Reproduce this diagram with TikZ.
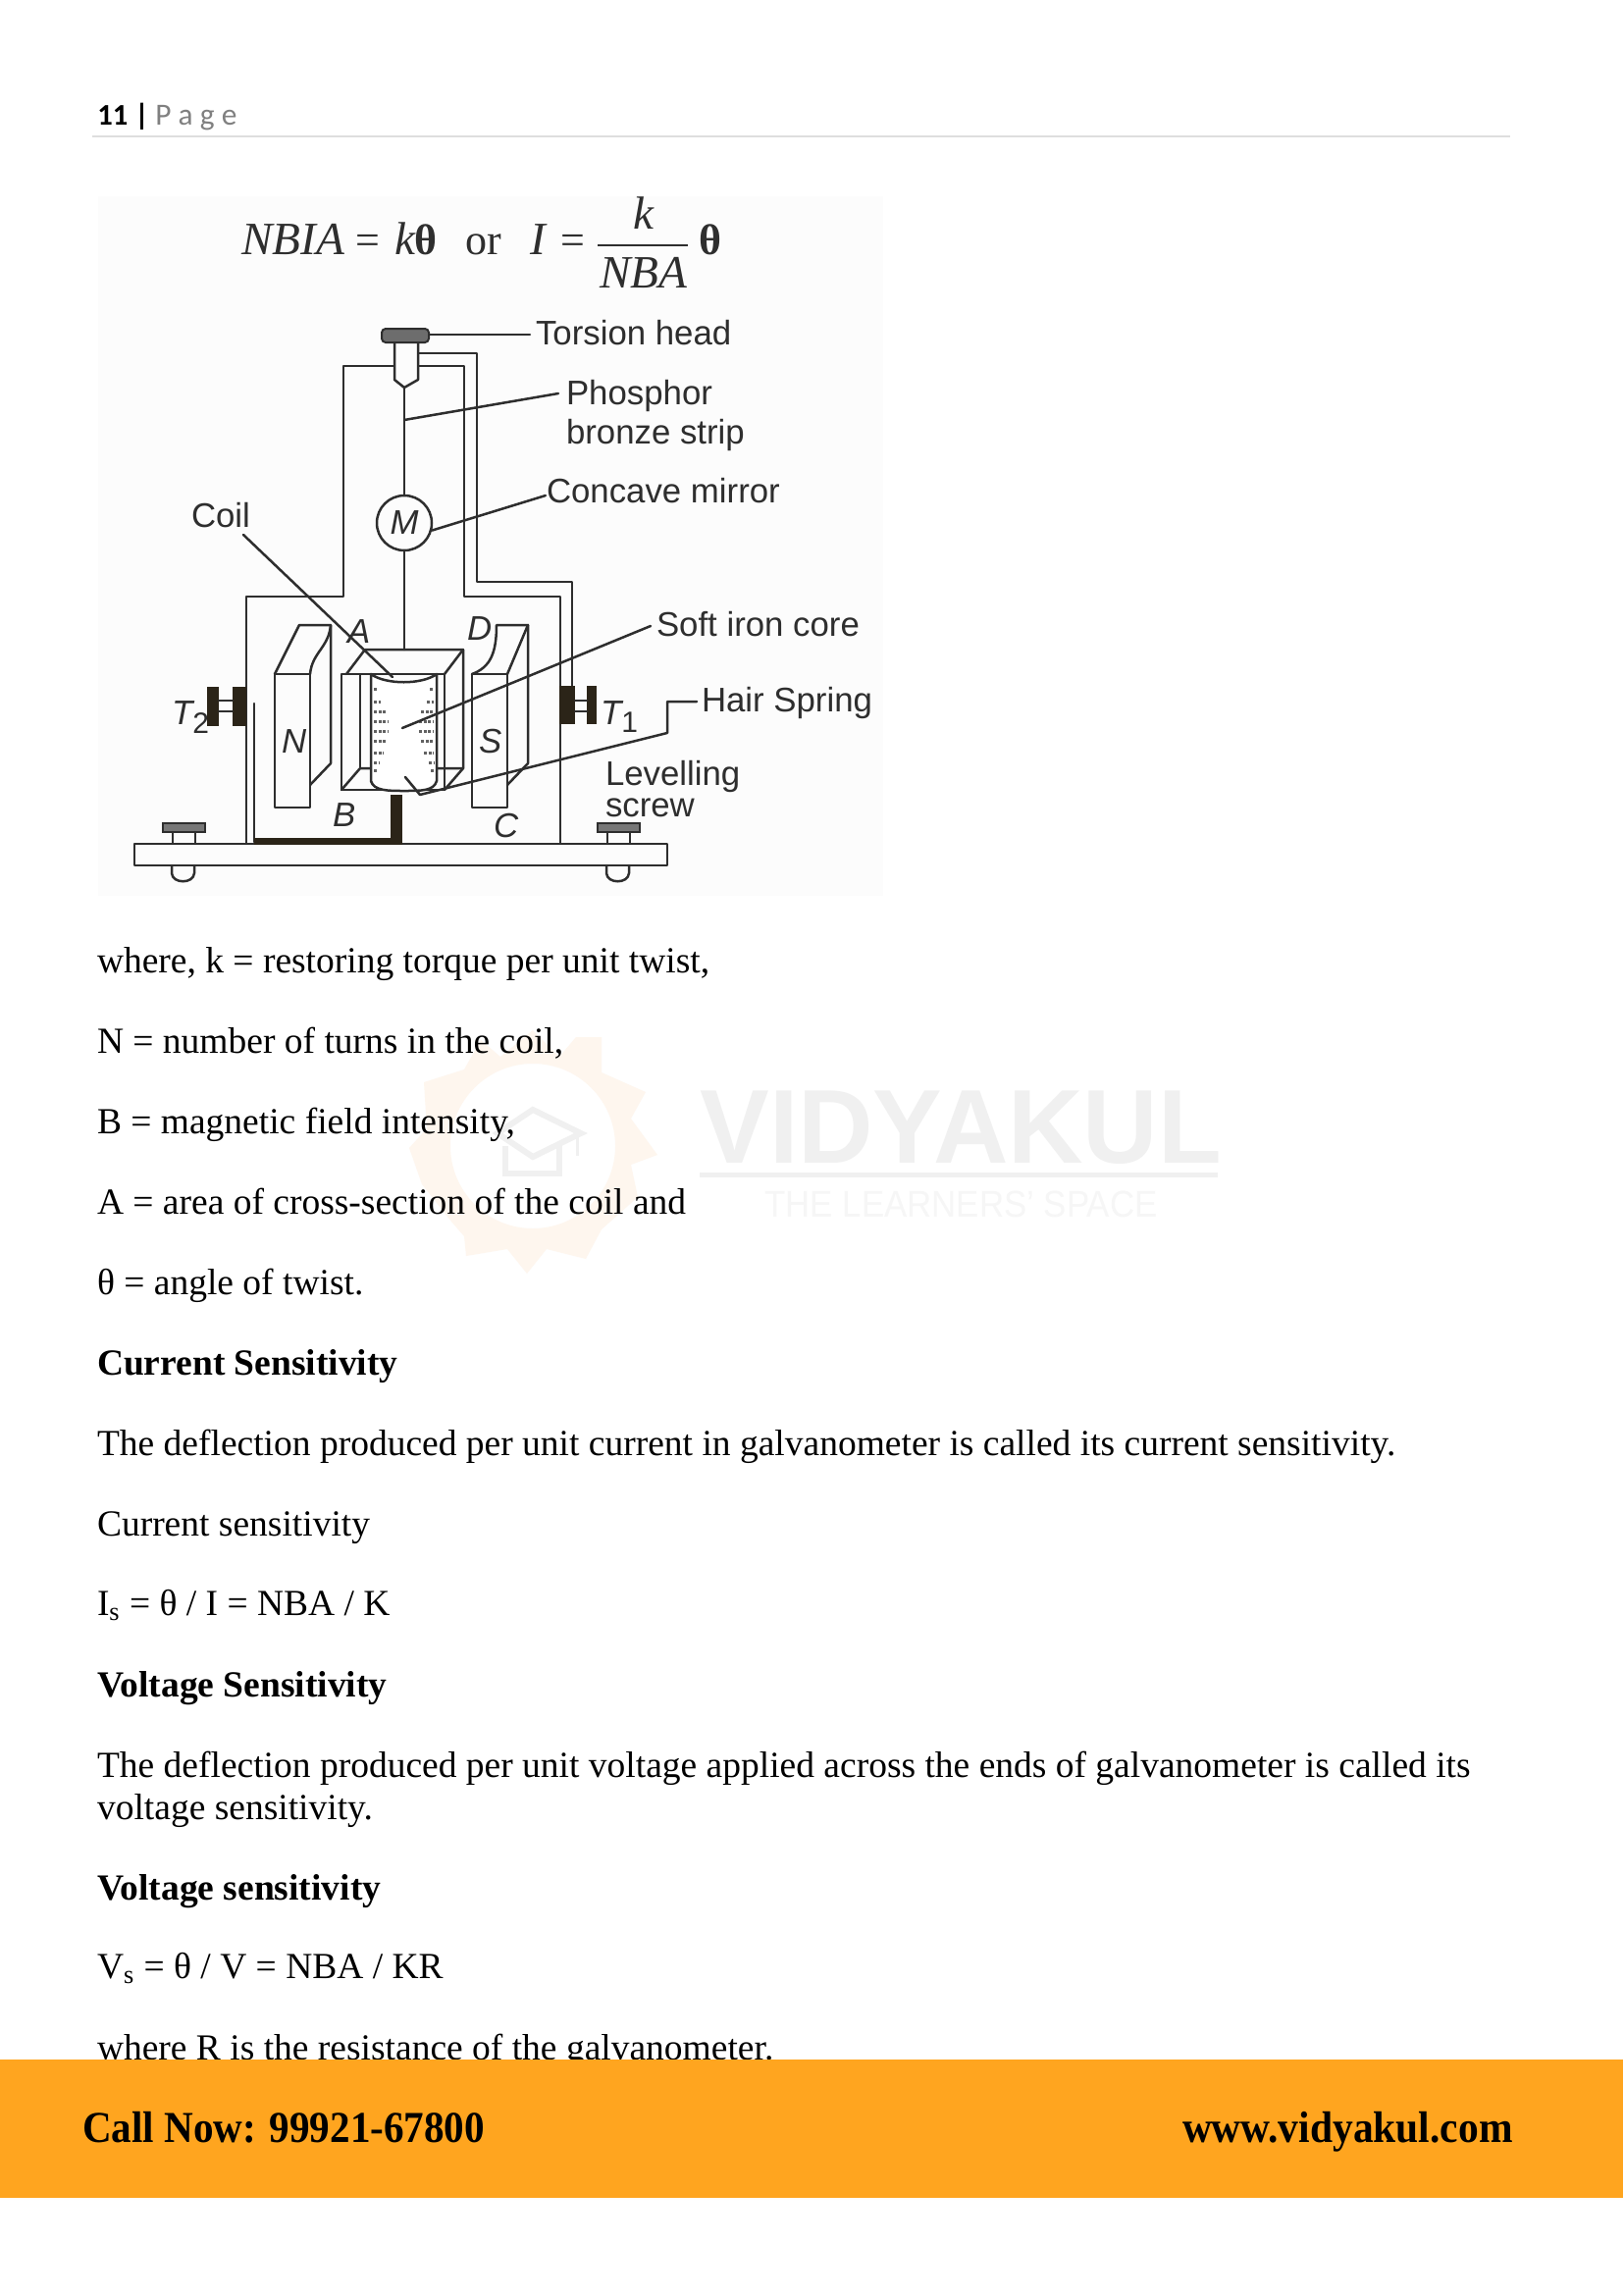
\documentclass[tikz,border=0pt]{standalone}
\usepackage{graphicx}
\usepackage{fontspec}
\setmainfont{Liberation Serif}
\setsansfont{Liberation Sans}
\newfontfamily\hdrfont{Carlito}
\definecolor{ink}{HTML}{2E2E2E}
\definecolor{dark}{HTML}{2B2418}
\definecolor{bandc}{HTML}{FFA51F}
\definecolor{wmgrey}{HTML}{F0F0F0}
\definecolor{wmlight}{HTML}{F6F6F6}
\definecolor{gearc}{HTML}{FEF6EE}
\definecolor{panel}{HTML}{FCFCFC}
\definecolor{rulec}{HTML}{DEDEDE}
\definecolor{pagec}{HTML}{808080}
\tikzset{
  x=0.5pt,y=-0.5pt,
  txt/.style={anchor=base west,inner sep=0pt,outer sep=0pt,font=\fontsize{18.75}{22}\selectfont},
  hdg/.style={txt,font=\fontsize{18.75}{22}\selectfont\bfseries},
  lab/.style={anchor=base west,inner sep=0pt,outer sep=0pt,text=ink,font=\fontsize{17.4}{20}\selectfont\sffamily},
  letter/.style={anchor=base west,inner sep=0pt,outer sep=0pt,text=ink,font=\fontsize{17.4}{20}\selectfont\sffamily\itshape},
  eqn/.style={anchor=base west,inner sep=0pt,outer sep=0pt,text=ink,font=\fontsize{23.6}{26}\selectfont\itshape},
  eqr/.style={anchor=base west,inner sep=0pt,outer sep=0pt,text=ink,font=\fontsize{22}{26}\selectfont},
  wire/.style={draw=ink,line width=1.25pt,line cap=round,line join=round},
  thin wire/.style={draw=ink,line width=0.9pt,line cap=round},
  solid part/.style={fill=dark,draw=none},
  ctc/.style={anchor=base west,inner sep=0pt,outer sep=0pt,text=black,font=\fontsize{22.5}{26}\selectfont\bfseries},
}
\begin{document}
\begin{tikzpicture}
\useasboundingbox (0,0) rectangle (1654,2339);
\fill[white] (0,0) rectangle (1654,2339);

% watermark
\begin{scope}
  \fill[gearc,even odd rule] (432,1103) -- (435,1150) -- (417,1170) -- (430,1207) -- (460,1245) -- (473,1260) -- (475,1280) -- (517,1273) -- (537,1298) -- (557,1273) -- (597,1283) -- (613,1253) -- (650,1220) -- (643,1187) -- (670,1177) -- (643,1140) -- (658,1113) -- (613,1093) -- (613,1057) -- (587,1057) -- (570,1077) -- (543,1050) -- (510,1077) -- (490,1060) -- (473,1090) -- cycle
    (543,1168) circle[radius=84];
  \draw[wmgrey,line width=3pt,line join=miter] (543,1131) -- (592,1155) -- (543,1179) -- (507,1155) -- cycle;
  \draw[wmgrey,line width=3pt] (515,1168) -- (515,1196) -- (570,1196) -- (570,1168);
  \draw[wmgrey,line width=1.5pt] (588,1157) -- (588,1178);
  \node[anchor=base west,inner sep=0pt,text=wmgrey,font=\fontsize{53.5}{56}\selectfont\sffamily\bfseries] (wmname) at (713,1185) {\scalebox{0.99}[1]{VIDYAKUL}};
  \fill[wmgrey] (713,1195) rectangle (1241,1200);
  \node[anchor=base west,inner sep=0pt,text=wmlight,font=\fontsize{19}{22}\selectfont\sffamily] (wmtag) at (779,1240) {\scalebox{0.917}[1]{THE LEARNERS' SPACE}};
\end{scope}

% header
\node[anchor=base west,inner sep=0pt,font=\fontsize{15.3}{18}\selectfont\hdrfont\bfseries] (pnum) at (99,127) {11 |};
\draw[black,line width=1.4pt] (144,106) -- (144,132);
\node[anchor=base west,inner sep=0pt,text=pagec,font=\fontsize{15.7}{18}\selectfont\hdrfont] (pword) at (158,127) {P a g e};
\draw[rulec,line width=0.8pt] (94,139) -- (1539,139);

% diagram panel
\fill[panel] (100,200) rectangle (900,913);

% equation
\node[eqn] (eq1) at (246,259) {NBIA};
\node[eqr] (eq2) at (362,259) {=};
\node[eqn] (eq3) at (402,259) {k};
\node[eqr] (eq4) at (422,259) {\bfseries θ};
\node[eqr] (eq5) at (474,259) {or};
\node[eqn] (eq6) at (540,259) {I};
\node[eqr] (eq7) at (571,259) {=};
\node[eqn] (eq8) at (645,233) {k};
\node[eqn] (eq9) at (611,293) {NBA};
\node[eqr] (eq10) at (712,259) {\bfseries θ};
\draw[ink,line width=1pt] (609,250) -- (701,250);

% frame wires
\draw[wire] (402,373) -- (350,373) -- (350,608) -- (251,608) -- (251,860);
\draw[wire] (426,373) -- (473,373) -- (473,608) -- (571,608) -- (571,860);
\draw[wire] (426,360) -- (486,360) -- (486,593) -- (583,593) -- (583,700);
\draw[wire] (259,717) -- (259,858);

% magnet N
\draw[wire] (280,687) rectangle (316,823);
\draw[wire] (280,687) -- (305,637) -- (337,637) -- (337,778) -- (316,800);
\draw[wire] (316,687) .. controls (318,665) and (335,660) .. (337,637);
% magnet S
\draw[wire] (481,687) rectangle (517,823);
\draw[wire] (481,687) .. controls (500,680) and (506,665) .. (506,637) -- (538,637) -- (538,778) -- (517,800);
\draw[wire] (517,687) -- (538,637);

% coil frame
\draw[wire] (348,687) rectangle (453,805);
\draw[wire] (353,687) -- (372,662) -- (472,662) -- (472,783) -- (453,805);
\draw[wire] (453,687) -- (472,662);
\draw[wire] (348,805) -- (367,783) -- (472,783);
\draw[wire] (367,687) -- (367,783);

% core
\draw[wire,fill=white] (378,687) -- (378,796) .. controls (381,806) and (395,806) .. (412,806) .. controls (430,806) and (442,806) .. (445,796) -- (445,687) .. controls (430,698) and (393,698) .. (378,687) -- cycle;
\foreach \y/\w in {702/4,715/7,725/13,735/15,745/15,755/13,767/10,777/5,785/3}{
  \draw[ink!75!white,line width=1.5pt,dash pattern=on 1.5pt off 0.8pt] (381,\y) -- (381+\w,\y);
  \draw[ink!75!white,line width=1.5pt,dash pattern=on 1.5pt off 0.8pt] (442-\w,\y) -- (442,\y);
}
\draw[wire] (413,792) -- (428,810);

% strip and mirror
\coordinate (tip) at (412,395);
\node[circle,draw=ink,line width=1.25pt,fill=panel,minimum size=28pt,inner sep=0pt,text=ink,font=\fontsize{17.4}{20}\selectfont\sffamily\itshape] (M) at (412,533) {M};
\coordinate (corebacktop) at (412,662);
\draw[wire] (tip) -- (M.north);
\draw[wire] (M.south) -- (corebacktop);

% torsion head + holder
\draw[wire,fill=panel] (402,350) -- (402,387) -- (tip) -- (426,387) -- (426,350);
\node[draw=ink,fill=ink!70!white,line width=1pt,rounded corners=2pt,minimum width=24pt,minimum height=7pt,inner sep=0pt] (thead) at (413,342) {};

% clamps
\fill[solid part] (570,699) rectangle (586,738);
\fill[solid part] (598,699) rectangle (608,738);
\draw[wire,line width=1pt] (586,714) -- (598,714) (586,725) -- (598,725);
\fill[solid part] (211,700) rectangle (223,740);
\fill[solid part] (237,700) rectangle (251,740);
\draw[wire,line width=1pt] (223,714) -- (237,714) (223,725) -- (237,725);

% base
\draw[wire,fill=panel] (137,860) rectangle (680,882);
\fill[solid part] (398,810) rectangle (410,860);
\fill[solid part] (259,854) rectangle (410,861);
% levelling screws
\foreach \nm/\xa in {left/166,right/609}{
  \fill[ink!65!white,draw=ink,line width=.6pt] (\xa,839) rectangle (\xa+43,848);
  \draw[wire] (\xa+10,848) -- (\xa+10,860) (\xa+33,848) -- (\xa+33,860);
  \draw[wire] (\xa+9,882) -- (\xa+9,890) .. controls (\xa+10,901) and (\xa+31,901) .. (\xa+32,890) -- (\xa+32,882);
}

% labels
\node[lab] (ltorsion) at (546,351) {Torsion head};
\node[lab] (lphos) at (577,412) {Phosphor};
\node[lab] (lbronze) at (577,452) {bronze strip};
\node[lab] (lmirror) at (557,512) {Concave mirror};
\node[lab] (lcoil) at (195,537) {Coil};
\node[lab] (lcore) at (669,648) {Soft iron core};
\node[lab] (lspring) at (715,725) {Hair Spring};
\node[lab] (llevel) at (617,800) {Levelling};
\node[lab] (lscrew) at (617,832) {screw};
\node[letter] (lA) at (354,655) {A};
\node[letter] (lD) at (476,652) {D};
\node[letter] (lB) at (339,842) {B};
\node[letter] (lC) at (503,853) {C};
\node[letter] (lN) at (287,767) {N};
\node[letter] (lS) at (488,767) {S};
\node[letter] (lTone) at (612,738) {T\textsubscript{\upshape\fontsize{15}{15}\selectfont 1}};
\node[letter] (lTtwo) at (175,738) {T\textsubscript{\upshape\fontsize{15}{15}\selectfont 2}};

% leaders
\coordinate (c1) at (437,341);
\coordinate (c2) at (540,341);
\draw[wire] (c1) -- (c2);
\coordinate (c3) at (412,428);
\coordinate (c4) at (569,401);
\draw[wire] (c3) -- (c4);
\coordinate (c5) at (556,505);
\draw[wire] (M.-15) -- (c5);
\coordinate (c6) at (248,545);
\coordinate (c7) at (400,690);
\draw[wire] (c6) -- (c7);
\coordinate (c8) at (410,742);
\coordinate (c9) at (663,638);
\draw[wire] (c8) -- (c9);
\coordinate (c10) at (710,715);
\coordinate (c11) at (680,715);
\coordinate (c12) at (680,747);
\coordinate (c13) at (428,810);
\draw[wire] (c10) -- (c11) -- (c12) -- (c13);

% body text
\node[txt] (t1) at (99,991) {where, k = restoring torque per unit twist,};
\node[txt] (t2) at (99,1073) {N = number of turns in the coil,};
\node[txt] (t3) at (99,1155) {B = magnetic field intensity,};
\node[txt] (t4) at (99,1237) {A = area of cross-section of the coil and};
\node[txt] (t5) at (99,1319) {θ = angle of twist.};
\node[hdg] (t6) at (99,1401) {Current Sensitivity};
\node[txt] (t7) at (99,1483) {The deflection produced per unit current in galvanometer is called its current sensitivity.};
\node[txt] (t8) at (99,1565) {Current sensitivity};
\node[txt] (t9) at (99,1646) {I\textsubscript{s} = θ / I = NBA / K};
\node[hdg] (t10) at (99,1729) {V{}oltage Sensitivity};
\node[txt] (t11) at (99,1811) {The deflection produced per unit voltage applied across the ends of galvanometer is called its};
\node[txt] (t12) at (99,1854) {voltage sensitivity.};
\node[hdg] (t13) at (99,1936) {V{}oltage sensitivity};
\node[txt] (t14) at (99,2016) {V\textsubscript{s} = θ / V = NBA / KR};
\node[txt] (t15) at (99,2099) {where R is the resistance of the galvanometer.};

% footer band
\fill[bandc] (0,2099) rectangle (1654,2240);
\node[ctc] (call) at (84,2183) {\scalebox{0.914}[1]{Call Now: 99921-67800}};
\node[ctc] (web) at (1205,2183) {\scalebox{0.922}[1]{www.vidyakul.com}};
\end{tikzpicture}
\end{document}
